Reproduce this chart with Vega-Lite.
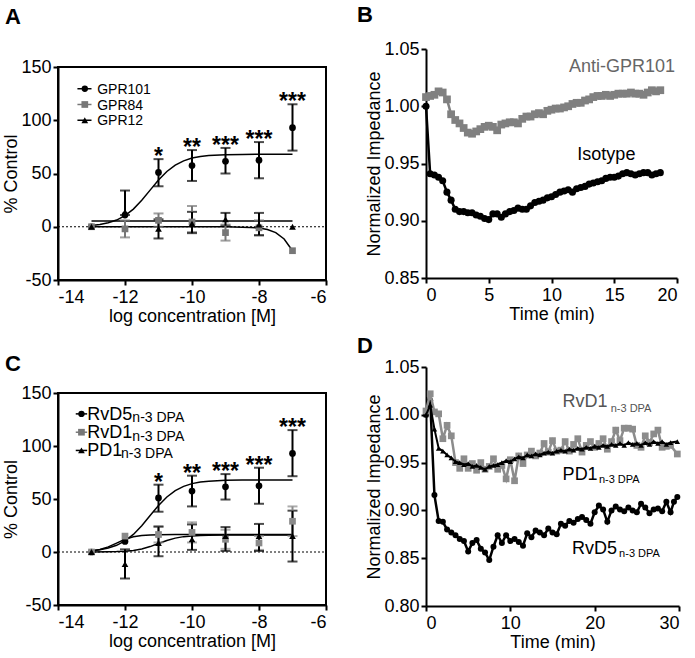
{
"$schema": "https://vega.github.io/schema/vega-lite/v6.json",
"padding": {"left": 2, "top": 4, "right": 0, "bottom": 0},
"background": "white",
"datasets": {
"apts": [
{"s":"GPR101","x":-13,"y":0},
{"s":"GPR101","x":-12,"y":11,"lo":11,"hi":34},
{"s":"GPR101","x":-11,"y":51,"lo":38,"hi":63.5,"sig":"*"},
{"s":"GPR101","x":-10,"y":57.5,"lo":43,"hi":72,"sig":"**"},
{"s":"GPR101","x":-9,"y":61.5,"lo":50,"hi":74,"sig":"***"},
{"s":"GPR101","x":-8,"y":62.5,"lo":45.5,"hi":79.5,"sig":"***"},
{"s":"GPR101","x":-7,"y":93,"lo":71.5,"hi":115,"sig":"***"},
{"s":"GPR84","x":-13,"y":0},
{"s":"GPR84","x":-12,"y":-2,"lo":-10,"hi":6},
{"s":"GPR84","x":-11,"y":6,"lo":0,"hi":12.5},
{"s":"GPR84","x":-10,"y":4.5,"lo":-5,"hi":19.5},
{"s":"GPR84","x":-9,"y":-5.5,"lo":-13,"hi":2},
{"s":"GPR84","x":-8,"y":-1,"lo":-8,"hi":6},
{"s":"GPR84","x":-7,"y":-22.5},
{"s":"GPR12","x":-13,"y":0},
{"s":"GPR12","x":-12,"y":14},
{"s":"GPR12","x":-11,"y":-2,"lo":-11,"hi":7},
{"s":"GPR12","x":-10,"y":3,"lo":-6,"hi":14},
{"s":"GPR12","x":-9,"y":7,"lo":1,"hi":13},
{"s":"GPR12","x":-8,"y":2,"lo":-8,"hi":13},
{"s":"GPR12","x":-7,"y":0}
],
"afit": [
{"s":"GPR101","x":-13,"y":1.2},{"s":"GPR101","x":-12.75,"y":2.1},{"s":"GPR101","x":-12.5,"y":3.7},{"s":"GPR101","x":-12.25,"y":6.3},{"s":"GPR101","x":-12,"y":10.5},{"s":"GPR101","x":-11.75,"y":16.6},{"s":"GPR101","x":-11.5,"y":24.8},{"s":"GPR101","x":-11.25,"y":34.4},{"s":"GPR101","x":-11,"y":43.9},{"s":"GPR101","x":-10.75,"y":51.9},{"s":"GPR101","x":-10.5,"y":57.9},{"s":"GPR101","x":-10.25,"y":61.9},{"s":"GPR101","x":-10,"y":64.5},{"s":"GPR101","x":-9.75,"y":66.0},{"s":"GPR101","x":-9.5,"y":66.8},{"s":"GPR101","x":-9,"y":67.6},{"s":"GPR101","x":-8.5,"y":67.9},{"s":"GPR101","x":-8,"y":68},{"s":"GPR101","x":-7.5,"y":68},{"s":"GPR101","x":-7,"y":68},
{"s":"GPR84","x":-13,"y":0},{"s":"GPR84","x":-12,"y":0},{"s":"GPR84","x":-11,"y":0},{"s":"GPR84","x":-10,"y":0},{"s":"GPR84","x":-9,"y":-0.1},{"s":"GPR84","x":-8.5,"y":-0.4},{"s":"GPR84","x":-8.25,"y":-0.7},{"s":"GPR84","x":-8,"y":-1.2},{"s":"GPR84","x":-7.75,"y":-2.6},{"s":"GPR84","x":-7.5,"y":-5.5},{"s":"GPR84","x":-7.25,"y":-11.5},{"s":"GPR84","x":-7,"y":-22.5},
{"s":"GPR12","x":-13,"y":5.3},{"s":"GPR12","x":-7,"y":5.3}
],
"cpts": [
{"s":"RvD5","x":-13,"y":0},
{"s":"RvD5","x":-12,"y":10},
{"s":"RvD5","x":-11,"y":51,"lo":38,"hi":63.5,"sig":"*"},
{"s":"RvD5","x":-10,"y":57.5,"lo":43,"hi":72,"sig":"**"},
{"s":"RvD5","x":-9,"y":61.5,"lo":49.5,"hi":73.5,"sig":"***"},
{"s":"RvD5","x":-8,"y":62.5,"lo":45.5,"hi":79.5,"sig":"***"},
{"s":"RvD5","x":-7,"y":93,"lo":71.5,"hi":115,"sig":"***"},
{"s":"RvD1","x":-13,"y":0},
{"s":"RvD1","x":-12,"y":15},
{"s":"RvD1","x":-11,"y":16.5,"lo":9,"hi":24},
{"s":"RvD1","x":-10,"y":18.5,"lo":9,"hi":28},
{"s":"RvD1","x":-9,"y":12,"lo":3,"hi":21},
{"s":"RvD1","x":-8,"y":8.5,"lo":2,"hi":15},
{"s":"RvD1","x":-7,"y":29,"lo":15,"hi":43},
{"s":"PD1","x":-13,"y":0},
{"s":"PD1","x":-12,"y":-11.5,"lo":-25,"hi":2.5},
{"s":"PD1","x":-11,"y":8.5,"lo":-4,"hi":24},
{"s":"PD1","x":-10,"y":12,"lo":2,"hi":26},
{"s":"PD1","x":-9,"y":15,"lo":1,"hi":23.5},
{"s":"PD1","x":-8,"y":15,"lo":1,"hi":26.5},
{"s":"PD1","x":-7,"y":15,"lo":-9,"hi":39}
],
"cfit": [
{"s":"RvD5","x":-13,"y":1.2},{"s":"RvD5","x":-12.75,"y":2.1},{"s":"RvD5","x":-12.5,"y":3.7},{"s":"RvD5","x":-12.25,"y":6.3},{"s":"RvD5","x":-12,"y":10.5},{"s":"RvD5","x":-11.75,"y":16.6},{"s":"RvD5","x":-11.5,"y":24.8},{"s":"RvD5","x":-11.25,"y":34.4},{"s":"RvD5","x":-11,"y":43.9},{"s":"RvD5","x":-10.75,"y":51.9},{"s":"RvD5","x":-10.5,"y":57.9},{"s":"RvD5","x":-10.25,"y":61.9},{"s":"RvD5","x":-10,"y":64.5},{"s":"RvD5","x":-9.75,"y":66.0},{"s":"RvD5","x":-9.5,"y":66.8},{"s":"RvD5","x":-9,"y":67.6},{"s":"RvD5","x":-8.5,"y":67.9},{"s":"RvD5","x":-8,"y":68},{"s":"RvD5","x":-7.5,"y":68},{"s":"RvD5","x":-7,"y":68},
{"s":"RvD1","x":-13,"y":1.0},{"s":"RvD1","x":-12.75,"y":2.3},{"s":"RvD1","x":-12.5,"y":4.8},{"s":"RvD1","x":-12.25,"y":8.4},{"s":"RvD1","x":-12,"y":12.0},{"s":"RvD1","x":-11.75,"y":14.35},{"s":"RvD1","x":-11.5,"y":15.6},{"s":"RvD1","x":-11.25,"y":16.1},{"s":"RvD1","x":-11,"y":16.35},{"s":"RvD1","x":-10.5,"y":16.5},{"s":"RvD1","x":-7,"y":16.5},
{"s":"PD1","x":-13,"y":0.04},{"s":"PD1","x":-12.5,"y":0.18},{"s":"PD1","x":-12.25,"y":0.37},{"s":"PD1","x":-12,"y":0.76},{"s":"PD1","x":-11.75,"y":1.5},{"s":"PD1","x":-11.5,"y":2.9},{"s":"PD1","x":-11.25,"y":5.1},{"s":"PD1","x":-11,"y":8.0},{"s":"PD1","x":-10.75,"y":10.9},{"s":"PD1","x":-10.5,"y":13.1},{"s":"PD1","x":-10.25,"y":14.5},{"s":"PD1","x":-10,"y":15.2},{"s":"PD1","x":-9.75,"y":15.6},{"s":"PD1","x":-9.5,"y":15.8},{"s":"PD1","x":-9,"y":15.95},{"s":"PD1","x":-7,"y":16}
],
"bdat": [
{"s":"Iso","t":0,"v":1.000},{"s":"Iso","t":0.33,"v":0.941},{"s":"Iso","t":0.67,"v":0.940},{"s":"Iso","t":1,"v":0.938},{"s":"Iso","t":1.33,"v":0.935},{"s":"Iso","t":1.67,"v":0.925},{"s":"Iso","t":2,"v":0.918},{"s":"Iso","t":2.33,"v":0.910},{"s":"Iso","t":2.67,"v":0.908},{"s":"Iso","t":3,"v":0.908},{"s":"Iso","t":3.33,"v":0.907},{"s":"Iso","t":3.67,"v":0.907},{"s":"Iso","t":4,"v":0.905},{"s":"Iso","t":4.33,"v":0.904},{"s":"Iso","t":4.67,"v":0.902},{"s":"Iso","t":5,"v":0.901},{"s":"Iso","t":5.33,"v":0.906},{"s":"Iso","t":5.67,"v":0.906},{"s":"Iso","t":6,"v":0.903},{"s":"Iso","t":6.33,"v":0.906},{"s":"Iso","t":6.67,"v":0.908},{"s":"Iso","t":7,"v":0.909},{"s":"Iso","t":7.33,"v":0.911},{"s":"Iso","t":7.67,"v":0.910},{"s":"Iso","t":8,"v":0.910},{"s":"Iso","t":8.33,"v":0.913},{"s":"Iso","t":8.67,"v":0.916},{"s":"Iso","t":9,"v":0.917},{"s":"Iso","t":9.33,"v":0.918},{"s":"Iso","t":9.67,"v":0.920},{"s":"Iso","t":10,"v":0.921},{"s":"Iso","t":10.33,"v":0.923},{"s":"Iso","t":10.67,"v":0.925},{"s":"Iso","t":11,"v":0.926},{"s":"Iso","t":11.33,"v":0.927},{"s":"Iso","t":11.67,"v":0.925},{"s":"Iso","t":12,"v":0.928},{"s":"Iso","t":12.33,"v":0.929},{"s":"Iso","t":12.67,"v":0.930},{"s":"Iso","t":13,"v":0.932},{"s":"Iso","t":13.33,"v":0.933},{"s":"Iso","t":13.67,"v":0.934},{"s":"Iso","t":14,"v":0.935},{"s":"Iso","t":14.33,"v":0.937},{"s":"Iso","t":14.67,"v":0.938},{"s":"Iso","t":15,"v":0.938},{"s":"Iso","t":15.33,"v":0.939},{"s":"Iso","t":15.67,"v":0.941},{"s":"Iso","t":16,"v":0.942},{"s":"Iso","t":16.33,"v":0.941},{"s":"Iso","t":16.67,"v":0.940},{"s":"Iso","t":17,"v":0.941},{"s":"Iso","t":17.33,"v":0.942},{"s":"Iso","t":17.67,"v":0.942},{"s":"Iso","t":18,"v":0.940},{"s":"Iso","t":18.33,"v":0.941},{"s":"Iso","t":18.67,"v":0.942},
{"s":"Anti","t":0,"v":1.008},{"s":"Anti","t":0.33,"v":1.009},{"s":"Anti","t":0.67,"v":1.010},{"s":"Anti","t":1,"v":1.013},{"s":"Anti","t":1.33,"v":1.012},{"s":"Anti","t":1.67,"v":1.006},{"s":"Anti","t":2,"v":0.993},{"s":"Anti","t":2.33,"v":0.988},{"s":"Anti","t":2.67,"v":0.985},{"s":"Anti","t":3,"v":0.981},{"s":"Anti","t":3.33,"v":0.977},{"s":"Anti","t":3.67,"v":0.976},{"s":"Anti","t":4,"v":0.978},{"s":"Anti","t":4.33,"v":0.980},{"s":"Anti","t":4.67,"v":0.982},{"s":"Anti","t":5,"v":0.983},{"s":"Anti","t":5.33,"v":0.982},{"s":"Anti","t":5.67,"v":0.979},{"s":"Anti","t":6,"v":0.984},{"s":"Anti","t":6.33,"v":0.985},{"s":"Anti","t":6.67,"v":0.986},{"s":"Anti","t":7,"v":0.986},{"s":"Anti","t":7.33,"v":0.985},{"s":"Anti","t":7.67,"v":0.989},{"s":"Anti","t":8,"v":0.991},{"s":"Anti","t":8.33,"v":0.991},{"s":"Anti","t":8.67,"v":0.993},{"s":"Anti","t":9,"v":0.994},{"s":"Anti","t":9.33,"v":0.993},{"s":"Anti","t":9.67,"v":0.996},{"s":"Anti","t":10,"v":0.997},{"s":"Anti","t":10.33,"v":0.998},{"s":"Anti","t":10.67,"v":0.998},{"s":"Anti","t":11,"v":0.999},{"s":"Anti","t":11.33,"v":1.000},{"s":"Anti","t":11.67,"v":1.002},{"s":"Anti","t":12,"v":1.003},{"s":"Anti","t":12.33,"v":1.003},{"s":"Anti","t":12.67,"v":1.005},{"s":"Anti","t":13,"v":1.006},{"s":"Anti","t":13.33,"v":1.008},{"s":"Anti","t":13.67,"v":1.009},{"s":"Anti","t":14,"v":1.009},{"s":"Anti","t":14.33,"v":1.010},{"s":"Anti","t":14.67,"v":1.009},{"s":"Anti","t":15,"v":1.010},{"s":"Anti","t":15.33,"v":1.011},{"s":"Anti","t":15.67,"v":1.011},{"s":"Anti","t":16,"v":1.011},{"s":"Anti","t":16.33,"v":1.012},{"s":"Anti","t":16.67,"v":1.011},{"s":"Anti","t":17,"v":1.011},{"s":"Anti","t":17.33,"v":1.010},{"s":"Anti","t":17.67,"v":1.012},{"s":"Anti","t":18,"v":1.014},{"s":"Anti","t":18.33,"v":1.013},{"s":"Anti","t":18.67,"v":1.014}
],
"ddat": [
{"s":"RvD5","t":0,"v":1.000},{"s":"RvD5","t":0.5,"v":1.015},{"s":"RvD5","t":1,"v":0.916},{"s":"RvD5","t":1.5,"v":0.889},{"s":"RvD5","t":2,"v":0.888},{"s":"RvD5","t":2.5,"v":0.880},{"s":"RvD5","t":3,"v":0.877},{"s":"RvD5","t":3.5,"v":0.874},{"s":"RvD5","t":4,"v":0.870},{"s":"RvD5","t":4.5,"v":0.868},{"s":"RvD5","t":5,"v":0.857},{"s":"RvD5","t":5.5,"v":0.866},{"s":"RvD5","t":6,"v":0.869},{"s":"RvD5","t":6.5,"v":0.860},{"s":"RvD5","t":7,"v":0.856},{"s":"RvD5","t":7.5,"v":0.848},{"s":"RvD5","t":8,"v":0.862},{"s":"RvD5","t":8.5,"v":0.874},{"s":"RvD5","t":9,"v":0.866},{"s":"RvD5","t":9.5,"v":0.874},{"s":"RvD5","t":10,"v":0.868},{"s":"RvD5","t":10.5,"v":0.870},{"s":"RvD5","t":11,"v":0.867},{"s":"RvD5","t":11.5,"v":0.863},{"s":"RvD5","t":12,"v":0.876},{"s":"RvD5","t":12.5,"v":0.872},{"s":"RvD5","t":13,"v":0.879},{"s":"RvD5","t":13.5,"v":0.877},{"s":"RvD5","t":14,"v":0.874},{"s":"RvD5","t":14.5,"v":0.881},{"s":"RvD5","t":15,"v":0.877},{"s":"RvD5","t":15.5,"v":0.875},{"s":"RvD5","t":16,"v":0.886},{"s":"RvD5","t":16.5,"v":0.884},{"s":"RvD5","t":17,"v":0.889},{"s":"RvD5","t":17.5,"v":0.887},{"s":"RvD5","t":18,"v":0.891},{"s":"RvD5","t":18.5,"v":0.893},{"s":"RvD5","t":19,"v":0.890},{"s":"RvD5","t":19.5,"v":0.886},{"s":"RvD5","t":20,"v":0.898},{"s":"RvD5","t":20.5,"v":0.905},{"s":"RvD5","t":21,"v":0.901},{"s":"RvD5","t":21.5,"v":0.888},{"s":"RvD5","t":22,"v":0.900},{"s":"RvD5","t":22.5,"v":0.904},{"s":"RvD5","t":23,"v":0.901},{"s":"RvD5","t":23.5,"v":0.899},{"s":"RvD5","t":24,"v":0.903},{"s":"RvD5","t":24.5,"v":0.900},{"s":"RvD5","t":25,"v":0.898},{"s":"RvD5","t":25.5,"v":0.907},{"s":"RvD5","t":26,"v":0.903},{"s":"RvD5","t":26.5,"v":0.897},{"s":"RvD5","t":27,"v":0.901},{"s":"RvD5","t":27.5,"v":0.902},{"s":"RvD5","t":28,"v":0.899},{"s":"RvD5","t":28.5,"v":0.909},{"s":"RvD5","t":29,"v":0.898},{"s":"RvD5","t":29.4,"v":0.909},{"s":"RvD5","t":29.8,"v":0.914},
{"s":"RvD1","t":0,"v":1.004},{"s":"RvD1","t":0.5,"v":1.022},{"s":"RvD1","t":1,"v":1.003},{"s":"RvD1","t":1.5,"v":1.001},{"s":"RvD1","t":2,"v":0.975},{"s":"RvD1","t":2.5,"v":0.989},{"s":"RvD1","t":3,"v":0.978},{"s":"RvD1","t":3.5,"v":0.950},{"s":"RvD1","t":4,"v":0.944},{"s":"RvD1","t":4.5,"v":0.954},{"s":"RvD1","t":5,"v":0.944},{"s":"RvD1","t":5.5,"v":0.949},{"s":"RvD1","t":6,"v":0.942},{"s":"RvD1","t":6.5,"v":0.950},{"s":"RvD1","t":7,"v":0.943},{"s":"RvD1","t":7.5,"v":0.946},{"s":"RvD1","t":8,"v":0.954},{"s":"RvD1","t":8.5,"v":0.943},{"s":"RvD1","t":9,"v":0.947},{"s":"RvD1","t":9.5,"v":0.933},{"s":"RvD1","t":10,"v":0.953},{"s":"RvD1","t":10.5,"v":0.931},{"s":"RvD1","t":11,"v":0.957},{"s":"RvD1","t":11.5,"v":0.949},{"s":"RvD1","t":12,"v":0.958},{"s":"RvD1","t":12.5,"v":0.962},{"s":"RvD1","t":13,"v":0.957},{"s":"RvD1","t":13.5,"v":0.960},{"s":"RvD1","t":14,"v":0.970},{"s":"RvD1","t":14.5,"v":0.961},{"s":"RvD1","t":15,"v":0.973},{"s":"RvD1","t":15.5,"v":0.962},{"s":"RvD1","t":16,"v":0.963},{"s":"RvD1","t":16.5,"v":0.972},{"s":"RvD1","t":17,"v":0.962},{"s":"RvD1","t":17.5,"v":0.969},{"s":"RvD1","t":18,"v":0.975},{"s":"RvD1","t":18.5,"v":0.961},{"s":"RvD1","t":19,"v":0.968},{"s":"RvD1","t":19.5,"v":0.972},{"s":"RvD1","t":20,"v":0.966},{"s":"RvD1","t":20.5,"v":0.970},{"s":"RvD1","t":21,"v":0.975},{"s":"RvD1","t":21.5,"v":0.964},{"s":"RvD1","t":22,"v":0.972},{"s":"RvD1","t":22.5,"v":0.984},{"s":"RvD1","t":23,"v":0.973},{"s":"RvD1","t":23.5,"v":0.986},{"s":"RvD1","t":24,"v":0.986},{"s":"RvD1","t":24.5,"v":0.985},{"s":"RvD1","t":25,"v":0.968},{"s":"RvD1","t":25.5,"v":0.966},{"s":"RvD1","t":26,"v":0.978},{"s":"RvD1","t":26.5,"v":0.971},{"s":"RvD1","t":27,"v":0.980},{"s":"RvD1","t":27.5,"v":0.984},{"s":"RvD1","t":28,"v":0.966},{"s":"RvD1","t":28.5,"v":0.967},{"s":"RvD1","t":29,"v":0.968},{"s":"RvD1","t":29.8,"v":0.959},
{"s":"PD1","t":0,"v":1.000},{"s":"PD1","t":0.5,"v":1.010},{"s":"PD1","t":1,"v":0.985},{"s":"PD1","t":1.5,"v":0.965},{"s":"PD1","t":2,"v":0.962},{"s":"PD1","t":2.5,"v":0.958},{"s":"PD1","t":3,"v":0.955},{"s":"PD1","t":3.5,"v":0.951},{"s":"PD1","t":4,"v":0.950},{"s":"PD1","t":4.5,"v":0.948},{"s":"PD1","t":5,"v":0.949},{"s":"PD1","t":5.5,"v":0.946},{"s":"PD1","t":6,"v":0.947},{"s":"PD1","t":6.5,"v":0.945},{"s":"PD1","t":7,"v":0.943},{"s":"PD1","t":7.5,"v":0.946},{"s":"PD1","t":8,"v":0.947},{"s":"PD1","t":8.5,"v":0.948},{"s":"PD1","t":9,"v":0.950},{"s":"PD1","t":9.5,"v":0.952},{"s":"PD1","t":10,"v":0.951},{"s":"PD1","t":10.5,"v":0.954},{"s":"PD1","t":11,"v":0.956},{"s":"PD1","t":11.5,"v":0.955},{"s":"PD1","t":12,"v":0.958},{"s":"PD1","t":12.5,"v":0.957},{"s":"PD1","t":13,"v":0.959},{"s":"PD1","t":13.5,"v":0.958},{"s":"PD1","t":14,"v":0.960},{"s":"PD1","t":14.5,"v":0.961},{"s":"PD1","t":15,"v":0.960},{"s":"PD1","t":15.5,"v":0.962},{"s":"PD1","t":16,"v":0.963},{"s":"PD1","t":16.5,"v":0.962},{"s":"PD1","t":17,"v":0.964},{"s":"PD1","t":17.5,"v":0.963},{"s":"PD1","t":18,"v":0.965},{"s":"PD1","t":18.5,"v":0.964},{"s":"PD1","t":19,"v":0.966},{"s":"PD1","t":19.5,"v":0.965},{"s":"PD1","t":20,"v":0.967},{"s":"PD1","t":20.5,"v":0.966},{"s":"PD1","t":21,"v":0.968},{"s":"PD1","t":21.5,"v":0.967},{"s":"PD1","t":22,"v":0.969},{"s":"PD1","t":22.5,"v":0.968},{"s":"PD1","t":23,"v":0.970},{"s":"PD1","t":23.5,"v":0.968},{"s":"PD1","t":24,"v":0.971},{"s":"PD1","t":24.5,"v":0.969},{"s":"PD1","t":25,"v":0.970},{"s":"PD1","t":25.5,"v":0.968},{"s":"PD1","t":26,"v":0.971},{"s":"PD1","t":26.5,"v":0.969},{"s":"PD1","t":27,"v":0.972},{"s":"PD1","t":27.5,"v":0.970},{"s":"PD1","t":28,"v":0.972},{"s":"PD1","t":28.5,"v":0.969},{"s":"PD1","t":29,"v":0.971},{"s":"PD1","t":29.8,"v":0.972}
]
},
"columns": 2,
"align": {"row": "each", "column": "each"},
"spacing": {"row": 10, "column": 30},
"resolve": {"scale": {"x": "independent", "y": "independent", "color": "independent", "shape": "independent"}},
"concat": [
{
 "width": 268, "height": 231,
 "view": {"stroke": null},
 "title": {"text": "A", "dx": -53, "offset": 20},
 "layer": [
  {"data": {"name": "afit"}, "mark": {"type": "line", "color": "black", "strokeWidth": 1.5},
   "encoding": {
    "x": {"field": "x", "type": "quantitative", "scale": {"domain": [-14, -6], "nice": false}, "axis": {"values": [-14, -12, -10, -8, -6], "title": "log concentration [M]", "labelExpr": "replace(datum.label, '\u2212', '-')"}},
    "y": {"field": "y", "type": "quantitative", "scale": {"domain": [-50, 150], "nice": false, "range": [231, 18]}, "axis": {"values": [-50, 0, 50, 100, 150], "title": "% Control", "labelExpr": "replace(datum.label, '\u2212', '-')"}},
    "detail": {"field": "s"}}},
  {"data": {"values": [{}]}, "mark": {"type": "rule", "strokeDash": [2, 2], "strokeWidth": 1, "color": "black"},
   "encoding": {"x": {"datum": -14}, "x2": {"datum": -6}, "y": {"datum": 0, "type": "quantitative"}}},
  {"data": {"values": [{}]}, "mark": {"type": "rect", "fillOpacity": 0, "fill": "white", "stroke": "black", "strokeWidth": 2},
   "encoding": {"x": {"datum": -14}, "x2": {"datum": -6}, "y": {"datum": -50}, "y2": {"datum": 150}}},
  {"data": {"name": "apts"}, "transform": [{"filter": "isValid(datum.hi)"}],
   "mark": {"type": "errorbar", "ticks": true, "size": 10, "thickness": 2},
   "encoding": {
    "x": {"field": "x", "type": "quantitative", "title": "log concentration [M]"},
    "y": {"field": "lo", "type": "quantitative", "title": "% Control"}, "y2": {"field": "hi"},
    "color": {"field": "s", "type": "nominal", "scale": {"domain": ["GPR101", "GPR84", "GPR12"], "range": ["black", "#777777", "black"]}, "legend": null}}},
  {"data": {"name": "apts"},
   "mark": {"type": "point", "filled": true, "opacity": 1, "size": 45},
   "encoding": {
    "x": {"field": "x", "type": "quantitative"},
    "y": {"field": "y", "type": "quantitative"},
    "shape": {"field": "s", "type": "nominal", "scale": {"domain": ["GPR101", "GPR84", "GPR12"], "range": ["circle", "square", "triangle-up"]}, "legend": null},
    "color": {"field": "s", "type": "nominal", "legend": null}}},
  {"data": {"name": "apts"}, "transform": [{"filter": "datum.sig"}],
   "mark": {"type": "text", "fontSize": 23, "fontWeight": "bold", "baseline": "alphabetic", "dy": 5, "color": "black"},
   "encoding": {"x": {"field": "x", "type": "quantitative"}, "y": {"field": "hi", "type": "quantitative", "title": "% Control"}, "text": {"field": "sig"}}},
  {"data": {"values": [{}]}, "mark": {"type": "rule", "strokeWidth": 1.5, "color": "black"},
   "encoding": {"x": {"datum": -13.42}, "x2": {"datum": -13.0}, "y": {"datum": 129.6}}},
  {"data": {"values": [{}]}, "mark": {"type": "rule", "strokeWidth": 1.5, "color": "#777777"},
   "encoding": {"x": {"datum": -13.42}, "x2": {"datum": -13.0}, "y": {"datum": 114.8}}},
  {"data": {"values": [{}]}, "mark": {"type": "rule", "strokeWidth": 1.5, "color": "black"},
   "encoding": {"x": {"datum": -13.42}, "x2": {"datum": -13.0}, "y": {"datum": 100}}},
  {"data": {"values": [{}]}, "mark": {"type": "point", "filled": true, "opacity": 1, "size": 40, "shape": "circle", "color": "black"},
   "encoding": {"x": {"datum": -13.2}, "y": {"datum": 129.6}}},
  {"data": {"values": [{}]}, "mark": {"type": "point", "filled": true, "opacity": 1, "size": 45, "shape": "square", "color": "#777777"},
   "encoding": {"x": {"datum": -13.2}, "y": {"datum": 114.8}}},
  {"data": {"values": [{}]}, "mark": {"type": "point", "filled": true, "opacity": 1, "size": 45, "shape": "triangle-up", "color": "black"},
   "encoding": {"x": {"datum": -13.2}, "y": {"datum": 100}}},
  {"data": {"values": [{}]}, "mark": {"type": "text", "fontSize": 14, "align": "left", "baseline": "alphabetic", "lineHeight": 15.7, "color": "black", "text": ["GPR101", "GPR84", "GPR12"]},
   "encoding": {"x": {"datum": -12.83}, "y": {"datum": 124.8}}}
 ]
},
{
 "width": 251, "height": 229,
 "view": {"stroke": null},
 "title": {"text": "B", "dx": -69, "offset": 13},
 "layer": [
  {"data": {"name": "bdat"}, "transform": [{"filter": "datum.s == 'Anti'"}],
   "mark": {"type": "line", "color": "#808080", "strokeWidth": 2.5, "point": {"filled": true, "shape": "square", "size": 60, "color": "#808080", "opacity": 1}},
   "encoding": {
    "x": {"field": "t", "type": "quantitative", "scale": {"domain": [0, 20], "nice": false}, "axis": {"values": [0, 5, 10, 15, 20], "title": "Time (min)"}},
    "y": {"field": "v", "type": "quantitative", "scale": {"domain": [0.85, 1.05], "nice": false, "zero": false}, "axis": {"values": [0.85, 0.9, 0.95, 1.0, 1.05], "format": ".2f", "title": "Normalized Impedance"}}}},
  {"data": {"name": "bdat"}, "transform": [{"filter": "datum.s == 'Iso'"}],
   "mark": {"type": "line", "color": "black", "strokeWidth": 2.5, "point": {"filled": true, "shape": "circle", "size": 50, "color": "black", "opacity": 1}},
   "encoding": {"x": {"field": "t", "type": "quantitative"}, "y": {"field": "v", "type": "quantitative"}}},
  {"data": {"values": [{}]}, "mark": {"type": "text", "fontSize": 18, "align": "left", "baseline": "alphabetic", "color": "#666666", "text": "Anti-GPR101"},
   "encoding": {"x": {"datum": 11.4}, "y": {"datum": 1.030}}},
  {"data": {"values": [{}]}, "mark": {"type": "text", "fontSize": 18, "align": "left", "baseline": "alphabetic", "color": "black", "text": "Isotype"},
   "encoding": {"x": {"datum": 12.06}, "y": {"datum": 0.9527}}}
 ]
},
{
 "width": 268, "height": 238,
 "view": {"stroke": null},
 "title": {"text": "C", "dx": -53, "offset": -9},
 "layer": [
  {"data": {"name": "cfit"}, "mark": {"type": "line", "color": "black", "strokeWidth": 1.5},
   "encoding": {
    "x": {"field": "x", "type": "quantitative", "scale": {"domain": [-14, -6], "nice": false}, "axis": {"values": [-14, -12, -10, -8, -6], "title": "log concentration [M]", "labelExpr": "replace(datum.label, '\u2212', '-')"}},
    "y": {"field": "y", "type": "quantitative", "scale": {"domain": [-50, 150], "nice": false, "range": [238, 26]}, "axis": {"values": [-50, 0, 50, 100, 150], "title": "% Control", "labelExpr": "replace(datum.label, '\u2212', '-')"}},
    "detail": {"field": "s"}}},
  {"data": {"values": [{}]}, "mark": {"type": "rule", "strokeDash": [2, 2], "strokeWidth": 1, "color": "black"},
   "encoding": {"x": {"datum": -14}, "x2": {"datum": -6}, "y": {"datum": 0, "type": "quantitative"}}},
  {"data": {"values": [{}]}, "mark": {"type": "rect", "fillOpacity": 0, "fill": "white", "stroke": "black", "strokeWidth": 2},
   "encoding": {"x": {"datum": -14}, "x2": {"datum": -6}, "y": {"datum": -50}, "y2": {"datum": 150}}},
  {"data": {"name": "cpts"}, "transform": [{"filter": "isValid(datum.hi)"}],
   "mark": {"type": "errorbar", "ticks": true, "size": 10, "thickness": 2},
   "encoding": {
    "x": {"field": "x", "type": "quantitative", "title": "log concentration [M]"},
    "y": {"field": "lo", "type": "quantitative", "title": "% Control"}, "y2": {"field": "hi"},
    "color": {"field": "s", "type": "nominal", "scale": {"domain": ["RvD5", "RvD1", "PD1"], "range": ["black", "#8a8a8a", "black"]}, "legend": null}}},
  {"data": {"name": "cpts"},
   "mark": {"type": "point", "filled": true, "opacity": 1, "size": 45},
   "encoding": {
    "x": {"field": "x", "type": "quantitative"},
    "y": {"field": "y", "type": "quantitative"},
    "shape": {"field": "s", "type": "nominal", "scale": {"domain": ["RvD5", "RvD1", "PD1"], "range": ["circle", "square", "triangle-up"]}, "legend": null},
    "color": {"field": "s", "type": "nominal", "legend": null}}},
  {"data": {"name": "cpts"}, "transform": [{"filter": "datum.sig"}],
   "mark": {"type": "text", "fontSize": 23, "fontWeight": "bold", "baseline": "alphabetic", "dy": 5, "color": "black"},
   "encoding": {"x": {"field": "x", "type": "quantitative"}, "y": {"field": "hi", "type": "quantitative", "title": "% Control"}, "text": {"field": "sig"}}},
  {"data": {"values": [{}]}, "mark": {"type": "rule", "strokeWidth": 1.5, "color": "black"},
   "encoding": {"x": {"datum": -13.47}, "x2": {"datum": -13.13}, "y": {"datum": 130.3}}},
  {"data": {"values": [{}]}, "mark": {"type": "rule", "strokeWidth": 1.5, "color": "#777777"},
   "encoding": {"x": {"datum": -13.47}, "x2": {"datum": -13.13}, "y": {"datum": 113.0}}},
  {"data": {"values": [{}]}, "mark": {"type": "rule", "strokeWidth": 1.5, "color": "black"},
   "encoding": {"x": {"datum": -13.47}, "x2": {"datum": -13.13}, "y": {"datum": 95.8}}},
  {"data": {"values": [{}]}, "mark": {"type": "point", "filled": true, "opacity": 1, "size": 40, "shape": "circle", "color": "black"},
   "encoding": {"x": {"datum": -13.3}, "y": {"datum": 130.3}}},
  {"data": {"values": [{}]}, "mark": {"type": "point", "filled": true, "opacity": 1, "size": 45, "shape": "square", "color": "#777777"},
   "encoding": {"x": {"datum": -13.3}, "y": {"datum": 113.0}}},
  {"data": {"values": [{}]}, "mark": {"type": "point", "filled": true, "opacity": 1, "size": 45, "shape": "triangle-up", "color": "black"},
   "encoding": {"x": {"datum": -13.3}, "y": {"datum": 95.8}}},
  {"data": {"values": [{}]}, "mark": {"type": "text", "fontSize": 18, "align": "left", "baseline": "alphabetic", "lineHeight": 18.3, "color": "black", "text": ["RvD5", "RvD1", "PD1"]},
   "encoding": {"x": {"datum": -13.13}, "y": {"datum": 125.0}}},
  {"data": {"values": [{}]}, "mark": {"type": "text", "fontSize": 14, "align": "left", "baseline": "alphabetic", "lineHeight": 18.3, "color": "black", "text": ["n-3 DPA", "n-3 DPA"]},
   "encoding": {"x": {"datum": -11.78}, "y": {"datum": 122.4}}},
  {"data": {"values": [{}]}, "mark": {"type": "text", "fontSize": 14, "align": "left", "baseline": "alphabetic", "color": "black", "text": "n-3 DPA"},
   "encoding": {"x": {"datum": -12.12}, "y": {"datum": 88.5}}}
 ]
},
{
 "width": 253, "height": 239,
 "view": {"stroke": null},
 "title": {"text": "D", "dx": -69, "offset": 0},
 "layer": [
  {"data": {"name": "ddat"}, "transform": [{"filter": "datum.s == 'RvD5'"}],
   "mark": {"type": "line", "color": "black", "strokeWidth": 2.5, "point": {"filled": true, "shape": "circle", "size": 36, "color": "black", "opacity": 1}},
   "encoding": {
    "x": {"field": "t", "type": "quantitative", "scale": {"domain": [0, 30], "nice": false}, "axis": {"values": [0, 10, 20, 30], "title": "Time (min)"}},
    "y": {"field": "v", "type": "quantitative", "scale": {"domain": [0.8, 1.05], "nice": false, "zero": false}, "axis": {"values": [0.8, 0.85, 0.9, 0.95, 1.0, 1.05], "format": ".2f", "title": "Normalized Impedance"}}}},
  {"data": {"name": "ddat"}, "transform": [{"filter": "datum.s == 'RvD1'"}],
   "mark": {"type": "line", "color": "#8c8c8c", "strokeWidth": 2.5, "point": {"filled": true, "shape": "square", "size": 45, "color": "#8c8c8c", "opacity": 1}},
   "encoding": {"x": {"field": "t", "type": "quantitative"}, "y": {"field": "v", "type": "quantitative"}}},
  {"data": {"name": "ddat"}, "transform": [{"filter": "datum.s == 'PD1'"}],
   "mark": {"type": "line", "color": "black", "strokeWidth": 2, "point": {"filled": true, "shape": "triangle-up", "size": 30, "color": "black", "opacity": 1}},
   "encoding": {"x": {"field": "t", "type": "quantitative"}, "y": {"field": "v", "type": "quantitative"}}},
  {"data": {"values": [{}]}, "mark": {"type": "text", "fontSize": 18, "align": "left", "baseline": "alphabetic", "color": "#555555", "text": "RvD1"},
   "encoding": {"x": {"datum": 16.2}, "y": {"datum": 1.008}}},
  {"data": {"values": [{}]}, "mark": {"type": "text", "fontSize": 11, "align": "left", "baseline": "alphabetic", "color": "#555555", "text": "n-3 DPA"},
   "encoding": {"x": {"datum": 21.9}, "y": {"datum": 1.003}}},
  {"data": {"values": [{}]}, "mark": {"type": "text", "fontSize": 18, "align": "left", "baseline": "alphabetic", "color": "black", "text": "PD1"},
   "encoding": {"x": {"datum": 16.2}, "y": {"datum": 0.932}}},
  {"data": {"values": [{}]}, "mark": {"type": "text", "fontSize": 11, "align": "left", "baseline": "alphabetic", "color": "black", "text": "n-3 DPA"},
   "encoding": {"x": {"datum": 20.5}, "y": {"datum": 0.929}}},
  {"data": {"values": [{}]}, "mark": {"type": "text", "fontSize": 18, "align": "left", "baseline": "alphabetic", "color": "black", "text": "RvD5"},
   "encoding": {"x": {"datum": 17.3}, "y": {"datum": 0.854}}},
  {"data": {"values": [{}]}, "mark": {"type": "text", "fontSize": 11, "align": "left", "baseline": "alphabetic", "color": "black", "text": "n-3 DPA"},
   "encoding": {"x": {"datum": 22.9}, "y": {"datum": 0.851}}}
 ]
}
],
"config": {
 "font": "Liberation Sans",
 "view": {"stroke": null},
 "axis": {"grid": false, "domainColor": "black", "domainWidth": 2, "tickColor": "black", "tickWidth": 2, "tickSize": 5, "labelFontSize": 18, "labelColor": "black", "titleFontSize": 18, "titleFontWeight": "normal", "titleColor": "black"},
 "axisX": {"labelPadding": 3, "titlePadding": 1},
 "axisY": {"labelPadding": 2, "titlePadding": 0},
 "title": {"fontSize": 22, "fontWeight": "bold", "anchor": "start", "frame": "group", "color": "black"}
}
}
